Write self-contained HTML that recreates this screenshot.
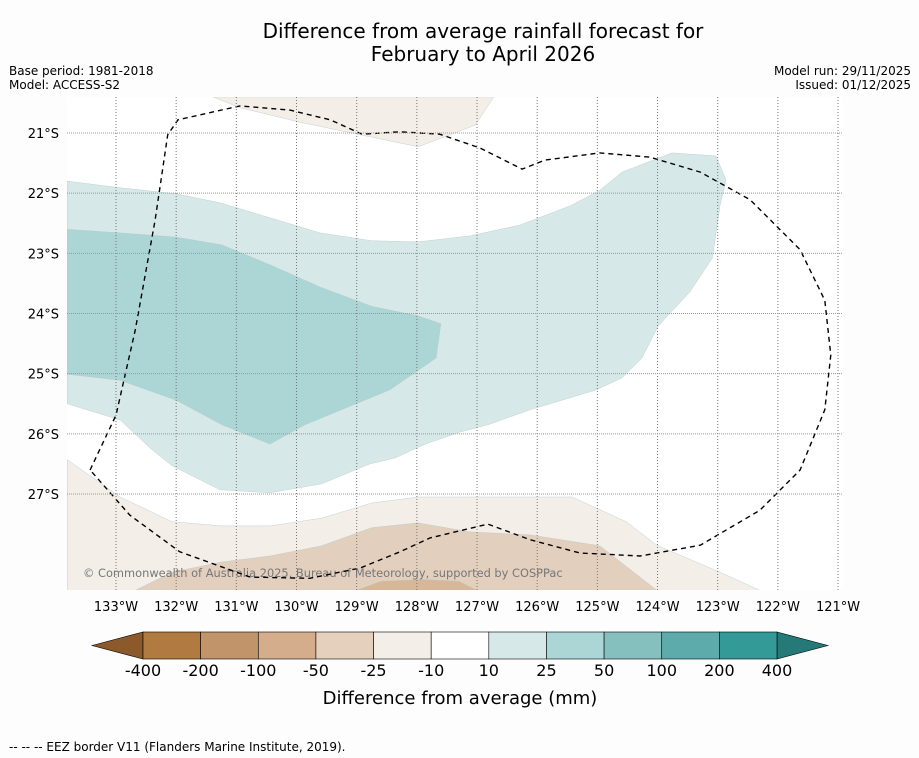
<!DOCTYPE html>
<html><head><meta charset="utf-8"><style>
body{margin:0;background:#fdfdfd;font-family:"Liberation Sans","DejaVu Sans",sans-serif;}
#wrap{position:relative;width:919px;height:758px;overflow:hidden;background:#fdfdfd}
</style></head><body>
<div id="wrap">
<svg id="svg" width="919" height="758" xmlns="http://www.w3.org/2000/svg">
<text x="483" y="38" font-size="20" text-anchor="middle" font-family="DejaVu Sans,sans-serif">Difference from average rainfall forecast for</text>
<text x="483" y="61" font-size="20" text-anchor="middle" font-family="DejaVu Sans,sans-serif">February to April 2026</text>
<text x="9" y="75" font-size="12" font-family="DejaVu Sans,sans-serif">Base period: 1981-2018</text>
<text x="9" y="89" font-size="12" font-family="DejaVu Sans,sans-serif">Model: ACCESS-S2</text>
<text x="911" y="75" font-size="12" text-anchor="end" font-family="DejaVu Sans,sans-serif">Model run: 29/11/2025</text>
<text x="911" y="89" font-size="12" text-anchor="end" font-family="DejaVu Sans,sans-serif">Issued: 01/12/2025</text>
<defs><clipPath id="mapclip"><rect x="67" y="97" width="776" height="493"/></clipPath></defs>
<g id="map" clip-path="url(#mapclip)"></g>
<g id="grid"></g>
<g id="axes"></g>
<g id="cbar"></g>
<text x="460" y="704" font-size="18" text-anchor="middle" font-family="DejaVu Sans,sans-serif">Difference from average (mm)</text>
<text x="9" y="751" font-size="12" font-family="DejaVu Sans,sans-serif">--  --  -- EEZ border V11 (Flanders Marine Institute, 2019).</text>
</svg>
</div>
<script>
const lonTicks=[-133,-132,-131,-130,-129,-128,-127,-126,-125,-124,-123,-122,-121];
const latTicks=[-21,-22,-23,-24,-25,-26,-27];
const cbarLabels=["-400","-200","-100","-50","-25","-10","10","25","50","100","200","400"];
const cbarColors=["#b07a40","#c29469","#d4ae8c","#e5d0bd","#f3eee8","#ffffff","#d6e9e8","#acd5d5","#85c0bf","#5dacab","#349a97"];
const beigeTopLon=[-131.39,-130.94,-129.94,-128.94,-127.98,-127.03,-126.72];
const beigeTopLat=[-20.40,-20.58,-20.82,-21.03,-21.23,-20.87,-20.40];
const beigeBotLon=[-133.81,-132.93,-132.07,-131.24,-130.44,-129.58,-128.75,-127.98,-125.42,-124.52,-124.01,-122.96,-122.30,-133.81];
const beigeBotLat=[-26.43,-27.05,-27.46,-27.53,-27.53,-27.40,-27.15,-27.05,-27.05,-27.46,-27.85,-28.30,-28.60,-28.60];
const tanLon=[-132.68,-132.07,-131.24,-130.44,-129.58,-128.75,-127.98,-127.12,-126.12,-124.96,-124.01];
const tanLat=[-28.60,-28.30,-28.13,-28.03,-27.86,-27.56,-27.48,-27.63,-27.68,-27.86,-28.60];
const darkLon=[-129.0,-128.6,-127.9,-127.3,-127.0];
const darkLat=[-28.60,-28.45,-28.42,-28.45,-28.60];
const lightLon=[-133.81,-132.93,-132.00,-131.27,-130.44,-129.61,-128.75,-127.98,-127.12,-126.29,-125.45,-124.96,-124.59,-123.76,-123.03,-122.86,-122.96,-123.09,-123.46,-123.99,-124.26,-124.59,-125.02,-125.45,-126.12,-126.82,-127.28,-127.86,-128.36,-128.78,-129.58,-130.44,-131.27,-132.07,-132.43,-132.93,-133.81];
const lightLat=[-21.80,-21.91,-22.01,-22.16,-22.41,-22.66,-22.79,-22.81,-22.71,-22.53,-22.21,-21.95,-21.65,-21.33,-21.38,-21.78,-22.20,-23.08,-23.64,-24.21,-24.74,-25.07,-25.27,-25.40,-25.60,-25.85,-25.97,-26.17,-26.40,-26.50,-26.83,-26.98,-26.93,-26.53,-26.24,-25.77,-25.50];
const midLon=[-133.81,-132.93,-132.00,-131.24,-130.44,-129.61,-128.75,-127.98,-127.60,-127.68,-128.45,-129.11,-129.86,-130.44,-131.24,-132.00,-132.93,-133.81];
const midLat=[-22.60,-22.66,-22.73,-22.86,-23.19,-23.56,-23.88,-24.04,-24.17,-24.74,-25.27,-25.54,-25.85,-26.17,-25.85,-25.44,-25.11,-25.01];
const eezLon=[-133.43,-133.00,-132.68,-132.35,-132.14,-131.97,-130.94,-130.11,-129.44,-128.91,-128.28,-127.62,-126.95,-126.25,-125.87,-124.96,-124.13,-123.29,-122.46,-121.63,-121.22,-121.12,-121.22,-121.63,-122.30,-123.29,-124.29,-125.29,-126.12,-126.82,-127.78,-128.28,-128.94,-129.78,-130.77,-131.94,-132.77,-133.43];
const eezLat=[-26.60,-25.69,-24.27,-22.45,-21.03,-20.78,-20.55,-20.62,-20.78,-21.02,-20.98,-21.02,-21.25,-21.60,-21.45,-21.33,-21.40,-21.65,-22.11,-22.94,-23.78,-24.69,-25.60,-26.60,-27.27,-27.85,-28.03,-27.98,-27.76,-27.50,-27.73,-27.96,-28.23,-28.40,-28.38,-27.96,-27.35,-26.60];

const S=60.17;
function xs(lon){return 116+(lon+133)*S;}
function ys(lat){return 133+(-21-lat)*S;}
const NS="http://www.w3.org/2000/svg";
function mk(tag,attrs,parent){const e=document.createElementNS(NS,tag);for(const k in attrs)e.setAttribute(k,attrs[k]);parent.appendChild(e);return e;}
function pts(lo,la){return lo.map((v,i)=>xs(v).toFixed(1)+","+ys(la[i]).toFixed(1)).join(" ");}
const map=document.getElementById('map');
let bg=mk('rect',{x:67,y:97,width:776,height:493,fill:'#fff'},map);


const layers=[[beigeTopLon,beigeTopLat,'#f3eee8','beige-top-region'],[beigeBotLon,beigeBotLat,'#f3eee8','beige-bottom-region'],[tanLon,tanLat,'#e3cfbd','tan-region'],[darkLon,darkLat,'#d8b799','dark-tan-region'],[lightLon,lightLat,'#d6e9e8','light-teal-region'],[midLon,midLat,'#acd5d5','mid-teal-region']];
layers.forEach(l=>{
  const p=mk('polygon',{points:pts(l[0],l[1]),fill:l[2],stroke:'#b8c8c8','stroke-width':0.4},map);
  
  
});
const cp=mk('text',{x:83,y:577,'font-size':11.4,fill:'#777','font-family':'DejaVu Sans,sans-serif'},map);
cp.textContent="© Commonwealth of Australia 2025, Bureau of Meteorology, supported by COSPPac";


const eez=mk('polygon',{points:pts(eezLon,eezLat),fill:'none',stroke:'#000','stroke-width':1.4,'stroke-dasharray':'5,4'},map);



const grid=document.getElementById('grid'),axes=document.getElementById('axes');
lonTicks.forEach(lon=>{
  const x=xs(lon);
  const g=mk('line',{x1:x,x2:x,y1:97,y2:590,stroke:'#777','stroke-width':1,'stroke-dasharray':'1,2'},grid);
  
  
  const t=mk('text',{x:x,y:611,'font-size':13,'text-anchor':'middle','font-family':'DejaVu Sans,sans-serif'},axes);
  t.textContent=Math.abs(lon)+"°W";
  
  
});
latTicks.forEach(lat=>{
  const y=ys(lat);
  const g=mk('line',{x1:67,x2:843,y1:y,y2:y,stroke:'#999','stroke-width':1,'stroke-dasharray':'1,1'},grid);
  
  
  const t=mk('text',{x:59,y:y+5,'font-size':13,'text-anchor':'end','font-family':'DejaVu Sans,sans-serif'},axes);
  t.textContent=Math.abs(lat)+"°S";
  
  
});

const cb=document.getElementById('cbar');
const x0=143,x1=777,y0=632,y1=659,w=(x1-x0)/cbarColors.length;
const lt=mk('polygon',{points:`92,645.5 ${x0},${y0} ${x0},${y1}`,fill:'#8c5a2a',stroke:'#000','stroke-width':0.6},cb);


const rt=mk('polygon',{points:`828,645.5 ${x1},${y0} ${x1},${y1}`,fill:'#257a77',stroke:'#000','stroke-width':0.6},cb);


cbarColors.forEach((c,i)=>{
  const r=mk('rect',{x:x0+i*w,y:y0,width:w,height:y1-y0,fill:c,stroke:'#000','stroke-width':0.6},cb);
  
  
});
cbarLabels.forEach((s,i)=>{
  const t=mk('text',{x:x0+i*w,y:676,'font-size':16,'text-anchor':'middle','font-family':'DejaVu Sans,sans-serif'},cb);
  t.textContent=s;
  
  
});
</script>
</body></html>
